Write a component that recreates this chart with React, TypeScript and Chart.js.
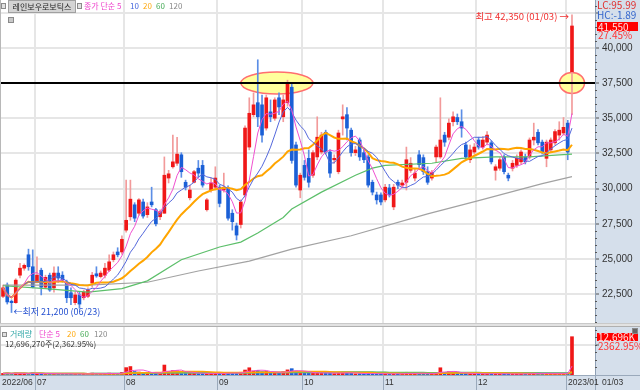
import React, { useEffect, useRef } from 'react';
import { Chart, registerables } from 'chart.js';

Chart.register(...registerables);

// ---------- data ----------
const MONTH_LABELS = ['2022/06', '07', '08', '09', '10', '11', '12', '2023/01'];
const MONTH_START = [0, 8, 29, 51, 71, 90, 112, 133];
const LAST_DATE = '01/03';

const OPEN = [
  22350, 23150, 22000, 21900, 23850, 24350, 25300, 24450,
  23350, 24200, 23000, 23850, 22950, 24000, 23850, 23350, 22600, 21900, 22450, 22250, 22350, 23300, 23950, 23750, 23850, 24200, 24950, 25500, 25500,
  27050, 28000, 28850, 28250, 29050, 28150, 29050, 28500, 28000, 28250, 30750, 31550, 31800, 32400, 30450, 29350, 30450, 31450, 31650, 28500, 29900, 30100,
  30100, 29900, 30050, 28250, 27350, 27450, 29550, 32950, 35250, 36100, 35950, 34300, 35450, 35000, 36450, 35100, 36100, 37200, 33100, 29900,
  31650, 32150, 30950, 32250, 32600, 34000, 32600, 32050, 31200, 34950, 35250, 34150, 32550, 33450, 32550, 32250, 30450, 29550, 29550,
  29200, 30050, 28700, 30450, 30250, 30450, 31300, 30750, 32400, 32200, 31200, 30750, 32250, 32250, 33800, 33650, 34750, 35050, 34750, 33100, 32050, 32600,
  33450, 32950, 33300, 33250, 31300, 31450, 32250, 30950, 31450, 31650, 31900, 32250, 32250, 33450, 34000, 33300, 32150, 32750, 33250, 33800, 33950,
  34650, 38300,
];
const HIGH = [
  23150, 23300, 22100, 23600, 24700, 24650, 25700, 25650,
  25150, 24350, 23850, 24000, 24450, 24450, 24100, 23500, 22950, 22650, 22650, 22800, 22950, 24050, 24450, 24150, 24700, 25300, 25500, 25800, 26650,
  30600, 30600, 29000, 29300, 29250, 29000, 30100, 28600, 28500, 32250, 31300, 33800, 33650, 32550, 30600, 30250, 31300, 32000, 32000, 29300, 30750, 31550,
  30250, 31100, 30200, 28500, 27550, 29200, 34450, 36450, 36800, 39150, 36650, 36650, 36300, 36450, 36800, 36650, 37700, 37550, 33300, 31100,
  32000, 32750, 32700, 35100, 34000, 34150, 32750, 32400, 34150, 35950, 35750, 34300, 33000, 33600, 32800, 32400, 30600, 29750, 29700,
  30300, 30300, 30300, 30600, 30600, 32950, 32200, 31400, 32700, 32400, 31550, 31300, 33100, 36450, 34000, 34950, 35450, 35300, 35600, 33300, 33100, 33200,
  33650, 33700, 34050, 33400, 31700, 32200, 32400, 31100, 32000, 32400, 32750, 32450, 33600, 34650, 34200, 33450, 33450, 33600, 34200, 34750, 35050,
  34850, 42350,
];
const LOW = [
  22250, 21800, 21200, 21850, 23650, 24200, 24200, 22950,
  23300, 22450, 22900, 22700, 22650, 23350, 23350, 21900, 21750, 21750, 21500, 22100, 22250, 23000, 23700, 23650, 23650, 24100, 24800, 25150, 25350,
  26900, 27750, 27650, 28100, 27900, 27950, 28700, 27350, 27800, 28250, 30400, 31450, 31650, 30800, 29900, 29200, 30400, 30800, 30100, 28400, 29750, 29900,
  28700, 29750, 27750, 27050, 26350, 27200, 29400, 32750, 35100, 34400, 33300, 34150, 34750, 34850, 35250, 34750, 35850, 31800, 30100, 29350,
  30600, 30100, 30800, 32050, 32450, 32450, 30800, 31800, 31050, 33800, 33450, 32300, 32350, 32000, 31850, 30100, 29550, 28900, 28850,
  29050, 29400, 28500, 30000, 30100, 29900, 31150, 30550, 31500, 31000, 30300, 30600, 31850, 32150, 33000, 33450, 34450, 34550, 33650, 32100, 31850, 32450,
  32800, 32800, 33100, 31750, 30600, 31300, 31050, 30550, 31250, 31500, 31750, 31750, 32100, 33100, 33100, 32450, 31550, 32600, 33100, 33450, 33800,
  32050, 35250,
];
const CLOSE = [
  22950, 21950, 21900, 23500, 24350, 24550, 24450, 23000,
  23850, 23000, 23700, 22800, 24000, 23650, 23500, 22250, 22250, 22450, 21800, 22650, 22800, 23850, 23800, 24000, 24350, 24800, 25300, 25300, 26400,
  27750, 29250, 27900, 29200, 28050, 28700, 28850, 27500, 28350, 30950, 31050, 31900, 32450, 31200, 30100, 29900, 31200, 31100, 30250, 29200, 30400, 30750,
  28950, 30100, 27900, 27650, 26700, 29050, 34300, 35350, 35950, 35100, 33800, 36450, 35100, 36300, 35800, 36300, 37550, 32000, 30250, 30950,
  30800, 30450, 32550, 33650, 33800, 32600, 31100, 32150, 33950, 35100, 34300, 32550, 32750, 32250, 32050, 30250, 29750, 29200, 29050,
  30100, 29550, 30100, 30250, 30400, 32050, 31800, 31100, 31700, 31200, 30450, 31150, 32950, 33450, 33300, 34650, 35100, 34750, 34300, 32250, 32750, 32950,
  32950, 33450, 33800, 31900, 31550, 32050, 31200, 30750, 31800, 32150, 32600, 31900, 33450, 33650, 33250, 32600, 33300, 33450, 34050, 34150, 34350,
  32600, 41550,
];
// volume in thousand shares
const VOLUME_K = [
  520, 610, 470, 680, 590, 380, 450, 760,
  520, 430, 390, 410, 560, 350, 300, 420, 380, 330, 360, 310, 340, 620, 410, 360, 480, 620, 540, 400, 880,
  2450, 2800, 1150, 980, 820, 600, 720, 640, 520, 3300, 1100, 1450, 1380, 950, 700, 560, 620, 500, 590, 430, 520, 560,
  650, 480, 780, 620, 700, 900, 1650, 2400, 1300, 1500, 1100, 1200, 700, 900, 800, 1100, 1700, 2100, 1300, 900,
  650, 720, 600, 900, 700, 550, 600, 480, 850, 900, 700, 550, 400, 450, 420, 600, 500, 380, 350,
  420, 380, 550, 350, 330, 900, 500, 420, 600, 520, 480, 360, 700, 2400, 900, 1100, 800, 500, 600, 550, 420, 380,
  450, 380, 420, 520, 380, 350, 400, 330, 360, 380, 420, 350, 560, 600, 480, 420, 450, 380, 520, 480, 500,
  537, 12696,
];
// long moving averages (index -> value)
const MA60_IDX = [0, 10, 20, 28, 34, 42, 51, 56, 60, 66, 68, 75, 83, 87, 90, 101, 108, 116, 124, 131, 134];
const MA60_VAL = [23100, 22900, 22650, 22900, 23450, 24950, 25850, 26200, 26850, 27950, 28550, 29750, 30950, 31450, 31650, 31800, 32150, 32250, 32250, 32400, 32450];
const MA120_IDX = [0, 20, 34, 46, 58, 68, 82, 100, 112, 127, 134];
const MA120_VAL = [23150, 23150, 23350, 24150, 24850, 25700, 26650, 28200, 29150, 30350, 30850];

const PRICE_TICKS = [22500, 25000, 27500, 30000, 32500, 35000, 37500, 40000, 42500];
const MARK_LEVEL = 37500;
const HIGH_TEXT = '최고 42,350 (01/03) →';
const LOW_TEXT = '←최저 21,200 (06/23)';

// ---------- styling constants ----------
const X_MIN = -0.71;
const X_MAX = 139.42;
const P_MIN = 20455;
const P_MAX = 43395;
const V_MAX = 15911000;
const RED = '#f01818';
const BLUE = '#1a5fd6';
const RED_WICK = '#f29a9a';
const BLUE_WICK = '#5b8ee6';
const PANEL = '#d5dfeb';
const GRID = '#e6e6e6';
const FONT = '"Noto Sans CJK KR", "Noto Sans", sans-serif';
const AXIS_FONT = '"Liberation Sans", Arial, sans-serif';

const N = CLOSE.length;
const IDX = Array.from({ length: N }, (_, i) => i);
const UP = IDX.map((i) => CLOSE[i] >= OPEN[i]);

function sma(src: number[], n: number): number[] {
  const out: number[] = [];
  let sum = 0;
  for (let i = 0; i < src.length; i++) {
    sum += src[i];
    if (i >= n) sum -= src[i - n];
    out.push(sum / Math.min(i + 1, n));
  }
  return out;
}

const monthGridX = {
  type: 'linear',
  min: X_MIN,
  max: X_MAX,
  offset: false,
  ticks: { display: false, autoSkip: false },
  grid: { color: GRID, lineWidth: 2, drawTicks: false, offset: false },
  border: { display: false },
  afterBuildTicks: (s: any) => {
    s.ticks = MONTH_START.slice(1).map((i) => ({ value: i - 0.5 }));
  },
  afterFit: (s: any) => {
    s.height = 0;
    s.paddingLeft = 0;
    s.paddingRight = 0;
  },
};

const priceDecor = {
  id: 'priceDecor',
  beforeDraw(chart: any) {
    const { ctx, chartArea: a, width, height } = chart;
    ctx.save();
    ctx.fillStyle = '#fff';
    ctx.fillRect(0, 0, width, height);
    ctx.fillStyle = PANEL;
    ctx.fillRect(a.right, 0, width - a.right, height);
    ctx.restore();
  },
  beforeDatasetsDraw(chart: any) {
    const { ctx, scales } = chart;
    const { x, y } = scales;
    const yl = y.getPixelForValue(MARK_LEVEL);
    const ells = [
      { cx: x.getPixelForValue(64.5), rx: 36, ry: 11 },
      { cx: x.getPixelForValue(N - 1), rx: 12.5, ry: 10.5 },
    ];
    ctx.save();
    for (const e of ells) {
      ctx.beginPath();
      ctx.ellipse(e.cx, yl, e.rx, e.ry, 0, 0, Math.PI * 2);
      ctx.fillStyle = '#ffff9c';
      ctx.fill();
      ctx.strokeStyle = '#ff6f6f';
      ctx.lineWidth = 1.5;
      ctx.stroke();
    }
    ctx.restore();
  },
  afterDatasetsDraw(chart: any) {
    const { ctx, chartArea: a, scales } = chart;
    const { x, y } = scales;
    ctx.save();
    const yl = Math.round(y.getPixelForValue(MARK_LEVEL));
    ctx.strokeStyle = '#000';
    ctx.lineWidth = 2;
    ctx.beginPath();
    ctx.moveTo(a.left, yl);
    ctx.lineTo(a.right, yl);
    ctx.stroke();

    ctx.textBaseline = 'middle';
    ctx.font = `9.5px ${FONT}`;
    ctx.fillStyle = '#f03030';
    ctx.textAlign = 'right';
    ctx.fillText(HIGH_TEXT, x.getPixelForValue(N - 1) - 3, y.getPixelForValue(HIGH[N - 1]) + 2);
    ctx.font = `9px ${FONT}`;
    ctx.fillStyle = '#2450d0';
    ctx.textAlign = 'left';
    const lowIdx = LOW.indexOf(Math.min(...LOW));
    ctx.fillText(LOW_TEXT, x.getPixelForValue(lowIdx) + 2, y.getPixelForValue(LOW[lowIdx]) - 1);
    ctx.restore();
  },
  afterDraw(chart: any) {
    const { ctx, chartArea: a, scales, height } = chart;
    const y = scales.y;
    ctx.save();
    ctx.strokeStyle = '#555';
    ctx.lineWidth = 1;
    for (let v = Math.ceil(P_MIN / 500) * 500; v <= P_MAX; v += 500) {
      if (v % 2500 === 0) continue;
      const py = Math.round(y.getPixelForValue(v)) + 0.5;
      ctx.beginPath();
      ctx.moveTo(a.right, py);
      ctx.lineTo(a.right + 2, py);
      ctx.stroke();
    }
    ctx.strokeStyle = '#b8b8b8';
    ctx.beginPath();
    ctx.moveTo(0.5, 0);
    ctx.lineTo(0.5, height);
    ctx.stroke();
    ctx.restore();
  },
};

const volDecor = {
  id: 'volDecor',
  beforeDraw(chart: any) {
    const { ctx, chartArea: a, width, height } = chart;
    ctx.save();
    ctx.fillStyle = '#fff';
    ctx.fillRect(0, 0, width, height);
    ctx.fillStyle = PANEL;
    ctx.fillRect(a.right, 0, width - a.right, height);
    ctx.fillStyle = '#c9c9c9';
    ctx.fillRect(0, 0, width, 1);
    ctx.fillStyle = '#e2e2e2';
    ctx.fillRect(0, 1, width, 2);
    ctx.fillStyle = '#b0b0b0';
    ctx.fillRect(0, 3, width, 1);
    ctx.restore();
  },
  afterDraw(chart: any) {
    const { ctx, chartArea: a, width, height, scales } = chart;
    const xs = scales.x;
    const ys = scales.y;
    ctx.save();
    ctx.strokeStyle = '#555';
    ctx.lineWidth = 1;
    for (let v = 2500000; v < V_MAX; v += 2500000) {
      const py = Math.round(ys.getPixelForValue(v)) + 0.5;
      ctx.beginPath();
      ctx.moveTo(a.right, py);
      ctx.lineTo(a.right + 2, py);
      ctx.stroke();
    }
    const top = Math.round(a.bottom);
    ctx.fillStyle = PANEL;
    ctx.fillRect(0, top, width, height - top);
    ctx.fillStyle = '#9aa9bb';
    ctx.fillRect(0, top, width, 1);
    for (let k = 1; k < MONTH_START.length; k++) {
      const px = Math.round(xs.getPixelForValue(MONTH_START[k] - 0.5));
      ctx.fillRect(px, top, 1, height - top);
    }
    ctx.fillRect(Math.round(a.right), top, 1, height - top);
    ctx.fillStyle = '#333';
    ctx.font = `8.5px ${AXIS_FONT}`;
    ctx.textBaseline = 'middle';
    ctx.textAlign = 'left';
    MONTH_LABELS.forEach((lab, k) => {
      const px = k === 0 ? a.left + 2 : Math.round(xs.getPixelForValue(MONTH_START[k] - 0.5)) + 2;
      ctx.fillText(lab, px, top + 8);
    });
    ctx.fillText(LAST_DATE, a.right + 7, top + 8);
    ctx.strokeStyle = '#b8b8b8';
    ctx.beginPath();
    ctx.moveTo(0.5, 4);
    ctx.lineTo(0.5, top);
    ctx.stroke();
    ctx.restore();
  },
};

function pts(idx: number[], vals: number[]) {
  return idx.map((i, k) => ({ x: i, y: vals[k] }));
}

export default function App() {
  const priceRef = useRef<HTMLCanvasElement | null>(null);
  const volRef = useRef<HTMLCanvasElement | null>(null);

  useEffect(() => {
    const ma5 = sma(CLOSE, 5);
    const ma10 = sma(CLOSE, 10);
    const ma20 = sma(CLOSE, 20);
    const line = (data: any[], color: string, w: number, order: number) => ({
      type: 'line',
      data,
      borderColor: color,
      borderWidth: w,
      pointRadius: 0,
      tension: 0,
      spanGaps: true,
      order,
    });

    const price = new Chart(priceRef.current as HTMLCanvasElement, {
      type: 'bar',
      data: {
        datasets: [
          {
            type: 'bar',
            data: IDX.map((i) => ({ x: i, y: [LOW[i], HIGH[i]] })),
            backgroundColor: (c: any) => (UP[c.dataIndex] ? RED_WICK : BLUE_WICK),
            barThickness: 1,
            grouped: false,
            borderWidth: 0,
            order: 6,
          },
          {
            type: 'bar',
            data: IDX.map((i) => ({ x: i, y: [Math.min(OPEN[i], CLOSE[i]), Math.max(OPEN[i], CLOSE[i])] })),
            backgroundColor: (c: any) => (UP[c.dataIndex] ? RED : BLUE),
            barThickness: 3,
            minBarLength: 1,
            grouped: false,
            borderWidth: 0,
            order: 5,
          },
          line(pts(MA120_IDX, MA120_VAL), '#a2a2a2', 1.2, 4),
          line(pts(MA60_IDX, MA60_VAL), '#5cbf6a', 1.2, 3),
          line(IDX.map((i) => ({ x: i, y: ma20[i] })), '#ffa500', 2, 2),
          line(IDX.map((i) => ({ x: i, y: ma10[i] })), '#5468dc', 1, 1),
          line(IDX.map((i) => ({ x: i, y: ma5[i] })), '#f050d0', 1, 0),
        ] as any,
      },
      options: {
        animation: false,
        responsive: false,
        maintainAspectRatio: false,
        devicePixelRatio: 1,
        layout: { padding: 0 },
        plugins: { legend: { display: false }, tooltip: { enabled: false } },
        scales: {
          x: monthGridX as any,
          y: {
            type: 'linear',
            position: 'right',
            min: P_MIN,
            max: P_MAX,
            afterBuildTicks: (s: any) => {
              s.ticks = PRICE_TICKS.map((v) => ({ value: v }));
            },
            ticks: {
              autoSkip: false,
              padding: 3,
              color: '#333',
              font: { size: 10, family: AXIS_FONT },
              callback: (v: any) => (v === 42500 ? '' : Number(v).toLocaleString('en-US')),
            },
            grid: { color: GRID, lineWidth: 2, tickLength: 4, tickColor: '#555', tickWidth: 1 },
            border: { display: true, color: '#8fa0b5', width: 1 },
            afterFit: (s: any) => {
              s.width = 45;
              s.paddingTop = 0;
              s.paddingBottom = 0;
            },
          } as any,
        },
      },
      plugins: [priceDecor],
    } as any);

    const vol = VOLUME_K.map((v) => v * 1000);
    const v5 = sma(vol, 5), v20 = sma(vol, 20), v60 = sma(vol, 60), v120 = sma(vol, 120);

    const volume = new Chart(volRef.current as HTMLCanvasElement, {
      type: 'bar',
      data: {
        datasets: [
          {
            type: 'bar',
            data: IDX.map((i) => ({ x: i, y: vol[i] })),
            backgroundColor: (c: any) => (UP[c.dataIndex] ? RED : BLUE),
            barThickness: 3,
            grouped: false,
            borderWidth: 0,
            order: 5,
          },
          line(IDX.map((i) => ({ x: i, y: v120[i] })), '#a2a2a2', 1.5, 4),
          line(IDX.map((i) => ({ x: i, y: v60[i] })), '#5cbf6a', 1.5, 3),
          line(IDX.map((i) => ({ x: i, y: v20[i] })), '#ffa500', 1.5, 2),
          line(IDX.map((i) => ({ x: i, y: v5[i] })), '#f050d0', 1, 1),
        ] as any,
      },
      options: {
        animation: false,
        responsive: false,
        maintainAspectRatio: false,
        devicePixelRatio: 1,
        layout: { padding: { top: 4, bottom: 15, left: 0, right: 0 } },
        plugins: { legend: { display: false }, tooltip: { enabled: false } },
        scales: {
          x: monthGridX as any,
          y: {
            type: 'linear',
            position: 'right',
            min: 0,
            max: V_MAX,
            afterBuildTicks: (s: any) => {
              s.ticks = [{ value: 10000000 }];
            },
            ticks: { display: false },
            grid: { color: GRID, lineWidth: 2, tickLength: 4, tickColor: '#555', tickWidth: 1 },
            border: { display: true, color: '#8fa0b5', width: 1 },
            afterFit: (s: any) => {
              s.width = 45;
              s.paddingTop = 0;
              s.paddingBottom = 0;
            },
          } as any,
        },
      },
      plugins: [volDecor],
    } as any);

    return () => {
      price.destroy();
      volume.destroy();
    };
  }, []);

  const abs = (left: number, top: number, color: string, text: string, extra: any = {}) => (
    <span style={{ position: 'absolute', left, top, color, whiteSpace: 'nowrap', ...extra }}>{text}</span>
  );
  const icon = (left: number, top: number, w = 4, h = 5, bg = '#e0e0e0') => (
    <div style={{ position: 'absolute', left, top, width: w, height: h, background: bg, border: '1px solid #8a8a8a' }} />
  );

  return (
    <div
      style={{
        position: 'relative',
        width: 640,
        height: 390,
        overflow: 'hidden',
        fontFamily: FONT,
        fontSize: 8,
        lineHeight: '10px',
      }}
    >
      <style>{'body{margin:0}'}</style>
      <canvas ref={priceRef} width={640} height={323} style={{ position: 'absolute', left: 0, top: 0, width: 640, height: 323 }} />
      <canvas ref={volRef} width={640} height={67} style={{ position: 'absolute', left: 0, top: 323, width: 640, height: 67 }} />

      {icon(1, 3, 3, 4)}
      <div
        style={{
          position: 'absolute',
          left: 8,
          top: 0,
          width: 66,
          height: 11,
          background: '#d4d4d4',
          border: '1px solid #a0a0a0',
          color: '#222',
          textAlign: 'center',
          lineHeight: '11px',
          whiteSpace: 'nowrap',
        }}
      >
        레인보우로보틱스
      </div>
      {icon(77, 3, 3, 4)}
      {abs(84, 1, '#ee44cc', '종가 단순 5')}
      {abs(130, 1, '#4466dd', '10')}
      {abs(143, 1, '#ffaa11', '20')}
      {abs(156, 1, '#44aa55', '60')}
      {abs(169, 1, '#888888', '120')}
      {icon(8, 17, 4, 4, '#c8c8c8')}

      {abs(597, 0, '#e03030', 'LC:95.99', { fontSize: 10 })}
      {abs(597, 10, '#3366cc', 'HC:-1.89', { fontSize: 10 })}
      <div style={{ position: 'absolute', left: 597, top: 22, width: 40, height: 9, background: '#ff0000', color: '#ffe0e0', lineHeight: '9px', paddingLeft: 1, fontSize: 10 }}>41,550</div>
      {abs(598, 30, '#ff3333', '27.45%', { fontSize: 10 })}

      {icon(2, 332, 3, 3)}
      {abs(10, 329, '#33a8a8', '거래량')}
      {abs(39, 329, '#ee44cc', '단순 5')}
      {abs(67, 329, '#ffaa11', '20')}
      {abs(80, 329, '#44aa55', '60')}
      {abs(94, 329, '#888888', '120')}
      {abs(5, 339, '#333333', '12,696,270주(2,362.95%)')}
      <div style={{ position: 'absolute', left: 597, top: 333, width: 40, height: 8, background: '#ff0000', color: '#ffe0e0', lineHeight: '8px', paddingLeft: 1, fontSize: 10 }}>12,696K</div>
      {abs(598, 341, '#ff3333', '2362.95%', { fontSize: 10 })}
      {icon(632, 328, 4, 4, '#666')}
    </div>
  );
}
